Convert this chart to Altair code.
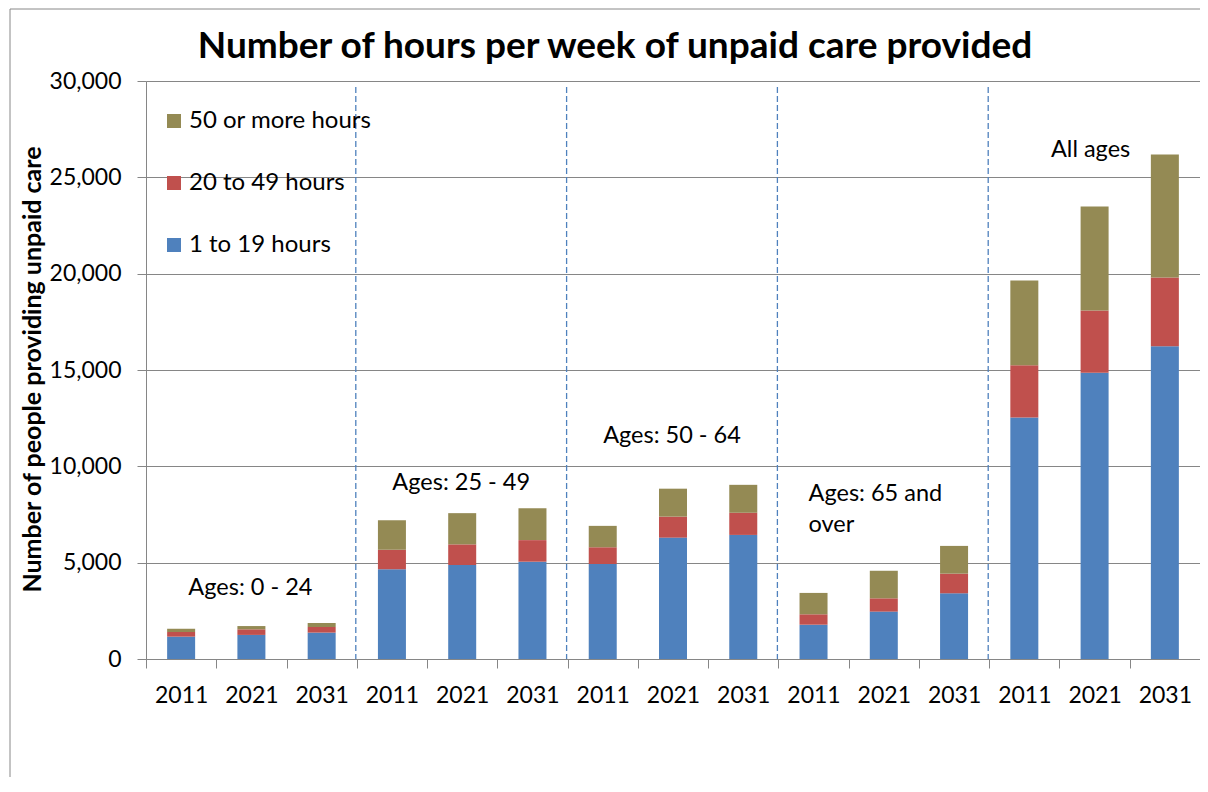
import altair as alt
import pandas as pd

FONT = "Lato"

group_ids = ["0-24", "25-49", "50-64", "65+", "All"]
years = ["2011", "2021", "2031"]
series_names = ["1 to 19 hours", "20 to 49 hours", "50 or more hours"]

h1_19 = [1160, 1250, 1370, 4660, 4880, 5050, 4930, 6300, 6440, 1780, 2460, 3410, 12540, 14860, 16230]
h20_49 = [240, 290, 290, 1010, 1070, 1120, 870, 1090, 1150, 540, 690, 1020, 2710, 3230, 3570]
h50_plus = [170, 170, 210, 1530, 1620, 1650, 1110, 1450, 1450, 1110, 1430, 1440, 4390, 5390, 6390]

title_text = "Number of hours per week of unpaid care provided"
y_title = "Number of people providing unpaid care"
y_ticks = [0, 5000, 10000, 15000, 20000, 25000, 30000]

# annotations
ann_text = ["Ages: 0 - 24", "Ages: 25 - 49", "Ages: 50 - 64"]
ann_cat = ["0-24|2021", "25-49|2021", "50-64|2021"]
ann_y = [3700, 9140, 11600]
ann65_text = ["Ages: 65 and", "over"]
ann65_cat = ["65+|2011", "65+|2011"]
ann65_y = [8560, 6950]
annall_text = ["All ages"]
annall_cat = ["All|2021"]
annall_y = [26420]

W, H = 1054, 578
L = 146  # page x of plot's left edge

cats = [f"{g}|{y}" for g in group_ids for y in years]
rows = []
for i, c in enumerate(cats):
    for o, (s, vals) in enumerate(zip(series_names, [h1_19, h20_49, h50_plus])):
        rows.append(dict(cat=c, series=s, value=vals[i], ord=o))
df = pd.DataFrame(rows)

xscale = alt.Scale(type="band", domain=cats, paddingInner=0, paddingOuter=0)
yscale = alt.Scale(domain=[0, 30000], nice=False)

xaxis = alt.Axis(
    title=None, labelExpr="split(datum.label, '|')[1]", tickBand="extent",
    labelAngle=0, labelFontSize=23, labelFont=FONT, labelColor="#000",
    labelPadding=16, tickSize=9, tickColor="#868686", domainColor="#868686",
    grid=False)
yaxis = alt.Axis(values=y_ticks, format=",d", title=y_title,
                 titleFont=FONT, titleFontSize=25, titleFontWeight="bold",
                 titleColor="#000", titleAngle=270, titleX=32 - L, titleY=H / 2 - 1,
                 titleAlign="center", titleBaseline="middle",
                 labelFont=FONT, labelFontSize=23, labelColor="#000",
                 labelPadding=16, tickSize=9, tickColor="#868686",
                 domainColor="#868686", grid=True, gridColor="#868686",
                 gridWidth=1)

def xdef(**kw):
    return alt.X("cat:N", sort=cats, scale=xscale, axis=xaxis, title=None, **kw)

def ydef(field, **kw):
    return alt.Y(field, scale=yscale, axis=yaxis, title=y_title, **kw)

bars = alt.Chart(df).mark_bar(width=28).encode(
    x=xdef(),
    y=ydef("value:Q", stack="zero"),
    color=alt.Color("series:N",
                    scale=alt.Scale(domain=["50 or more hours", "20 to 49 hours", "1 to 19 hours"],
                                    range=["#948A54", "#C0504D", "#4F81BD"]),
                    legend=alt.Legend(orient="none", legendX=16, legendY=28, title=None,
                                      symbolType="square", symbolSize=196, symbolStrokeWidth=0,
                                      labelFont=FONT, labelFontSize=24, labelColor="#000",
                                      labelLimit=400,
                                      rowPadding=38, labelOffset=3, padding=0)),
    order=alt.Order("ord:Q", sort="ascending"),
)

sep_df = pd.DataFrame({"cat": ["25-49|2011", "50-64|2011", "65+|2011", "All|2011"]})
seps = alt.Chart(sep_df).mark_rule(color="#4F81BD", strokeDash=[6, 3], strokeWidth=1.3,
                                   xOffset=-1).encode(
    x=xdef(bandPosition=0), y=alt.value(6), y2=alt.value(H))

def ann_layer(texts, cs, ys, align, dx):
    d = pd.DataFrame({"t": texts, "cat": cs, "yv": ys})
    return alt.Chart(d).mark_text(font=FONT, fontSize=23.5, color="#000", align=align,
                                  baseline="middle", dx=dx).encode(
        x=xdef(), y=ydef("yv:Q"), text="t:N")

ann1 = ann_layer(ann_text, ann_cat, ann_y, "center", -1)
ann2 = ann_layer(ann65_text, ann65_cat, ann65_y, "left", -5)
ann3 = ann_layer(annall_text, annall_cat, annall_y, "center", -4)

one = pd.DataFrame({"a": [0]})
frame_left = alt.Chart(one).mark_rule(color="#888888", strokeWidth=1).encode(
    x=alt.value(10 - L), y=alt.value(-72), y2=alt.value(700))
frame_top = alt.Chart(one).mark_rule(color="#888888", strokeWidth=1).encode(
    x=alt.value(10 - L), x2=alt.value(W), y=alt.value(-72))

title = alt.Chart(pd.DataFrame({"t": [title_text]})).mark_text(
    font=FONT, fontSize=37, fontWeight="bold", color="#000", align="center",
    baseline="alphabetic").encode(x=alt.value(615 - L), y=alt.value(-23), text="t:N")

chart = alt.layer(frame_left, frame_top, bars, seps, ann1, ann2, ann3, title).properties(
    width=W, height=H,
    autosize=alt.AutoSizeParams(type="none"),
    padding={"left": L - 8, "top": 73, "right": 0, "bottom": 118},
).configure_view(stroke="transparent", strokeWidth=0).configure(background="#ffffff")

chart.save("out.html", embed_options={"renderer": "svg", "actions": False})
